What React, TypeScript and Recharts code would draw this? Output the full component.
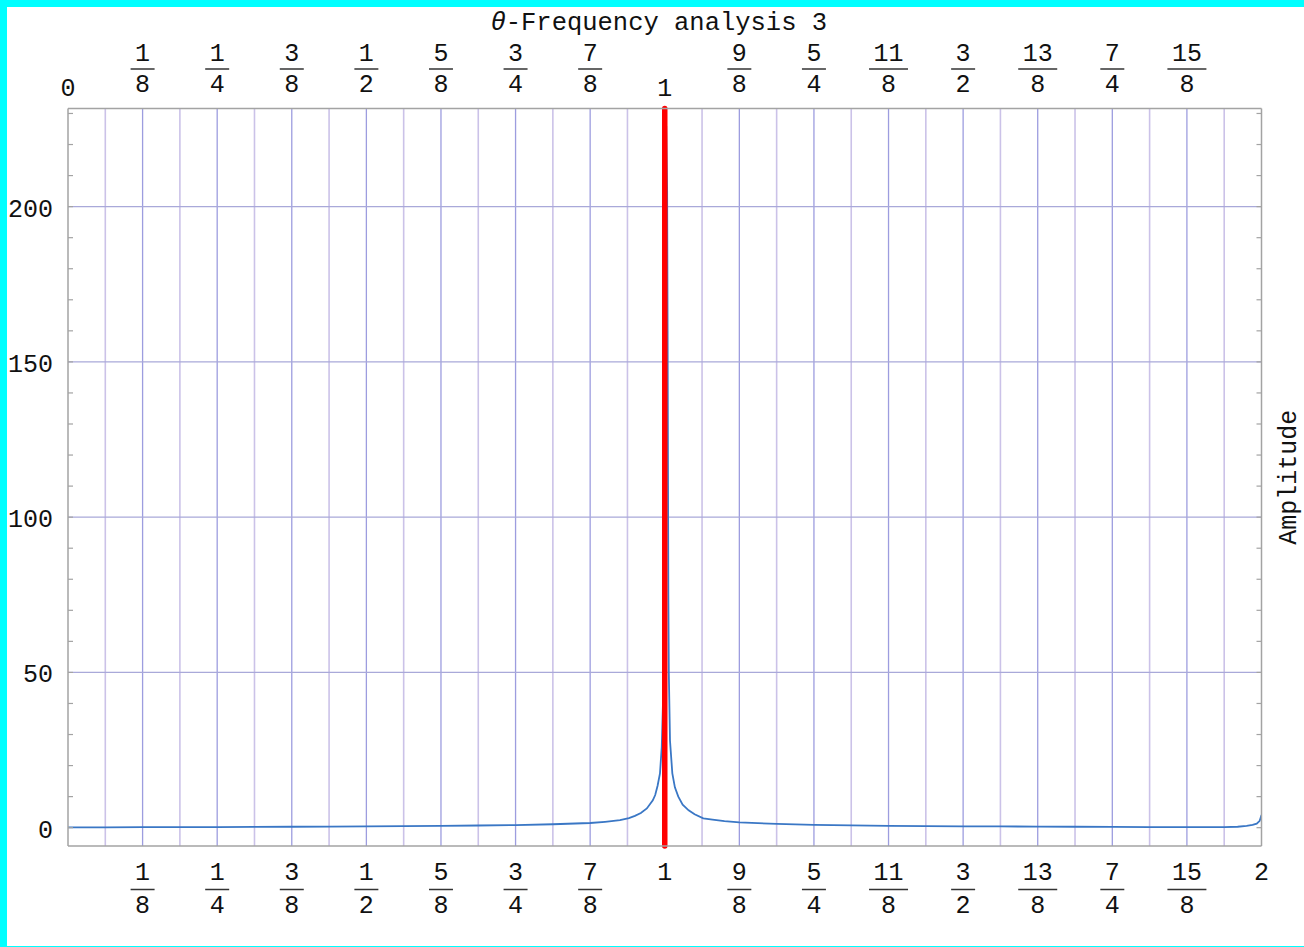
import React from 'react';
import {
  ComposedChart,
  Line,
  XAxis,
  YAxis,
  ReferenceLine
} from 'recharts';

// frequency (multiples of the base frequency) and amplitude
const freqValues = [
  0, 0.0625, 0.125, 0.1875, 0.25, 0.3125, 0.375, 0.4375, 0.5, 0.5625, 0.625, 0.6875,
  0.75, 0.8125, 0.875, 0.9, 0.925, 0.94, 0.95, 0.96, 0.97, 0.98, 0.984, 0.988,
  0.992, 0.995, 0.997, 0.9985, 0.9995, 1.0005, 1.0015, 1.0025, 1.004, 1.0048,
  1.0055, 1.006, 1.0068, 1.0088, 1.0127, 1.017, 1.0227, 1.03, 1.04, 1.05, 1.0646, 1.08,
  1.1, 1.125, 1.1875, 1.25, 1.3125, 1.375, 1.4375, 1.5, 1.5625, 1.625, 1.6875,
  1.75, 1.8125, 1.875, 1.9375, 1.96, 1.975, 1.985, 1.992, 1.997, 2
];

const amplitudeValues = [
  0.1, 0.1, 0.15, 0.2, 0.2, 0.25, 0.3, 0.35, 0.4, 0.5, 0.55, 0.7,
  0.85, 1.1, 1.5, 1.9, 2.4, 3.1, 3.8, 4.7, 6.2, 8.8, 10.5, 13.5,
  17.5, 26, 40, 60, 95, 150, 200, 226, 205, 160,
  110, 75, 50, 28, 17.5, 13, 10, 7.4, 5.6, 4.3, 3.0, 2.6,
  2.1, 1.7, 1.2, 0.9, 0.75, 0.6, 0.5, 0.45, 0.4, 0.35, 0.3,
  0.25, 0.2, 0.15, 0.15, 0.3, 0.6, 0.9, 1.3, 2.2, 4.1
];

const xTicks = [0, 0.125, 0.25, 0.375, 0.5, 0.625, 0.75, 0.875, 1, 1.125, 1.25, 1.375, 1.5, 1.625, 1.75, 1.875, 2];
const xGridValues = [
  0.0625, 0.125, 0.1875, 0.25, 0.3125, 0.375, 0.4375, 0.5, 0.5625, 0.625, 0.6875, 0.75,
  0.8125, 0.875, 0.9375, 1, 1.0625, 1.125, 1.1875, 1.25, 1.3125, 1.375, 1.4375, 1.5,
  1.5625, 1.625, 1.6875, 1.75, 1.8125, 1.875, 1.9375
];
const topTickLabels = ['0', '1/8', '1/4', '3/8', '1/2', '5/8', '3/4', '7/8', '1', '9/8', '5/4', '11/8', '3/2', '13/8', '7/4', '15/8', ''];
const bottomTickLabels = ['', '1/8', '1/4', '3/8', '1/2', '5/8', '3/4', '7/8', '1', '9/8', '5/4', '11/8', '3/2', '13/8', '7/4', '15/8', '2'];

const yTicks = [0, 10, 20, 30, 40, 50, 60, 70, 80, 90, 100, 110, 120, 130, 140, 150, 160, 170, 180, 190, 200, 210, 220, 230];
const yLabelValues = [0, 50, 100, 150, 200];
const yGridValues = [50, 100, 150, 200];

const chartData = freqValues.map((freq, i) => ({ freq, amp: amplitudeValues[i] }));

const FONT = '"Liberation Mono", "DejaVu Sans Mono", monospace';
const FONT_SIZE = 25;
const TEXT = '#111';
const FRAME = '#a3a3a3';

const Fraction = ({ x, label, numY, barY, denY, intY }: any) => {
  if (!label) return null;
  const parts = label.split('/');
  if (parts.length === 1) {
    return (
      <text x={x} y={intY} textAnchor="middle" fontFamily={FONT} fontSize={FONT_SIZE} fill={TEXT}>
        {label}
      </text>
    );
  }
  const half = (Math.max(parts[0].length, parts[1].length) * 15 + 9) / 2;
  return (
    <g>
      <text x={x} y={numY} textAnchor="middle" fontFamily={FONT} fontSize={FONT_SIZE} fill={TEXT}>
        {parts[0]}
      </text>
      <line x1={x - half} x2={x + half} y1={barY} y2={barY} stroke="#333" strokeWidth={1.5} />
      <text x={x} y={denY} textAnchor="middle" fontFamily={FONT} fontSize={FONT_SIZE} fill={TEXT}>
        {parts[1]}
      </text>
    </g>
  );
};

const TopTick = (props: any) => {
  const { x, y, payload } = props;
  const label = topTickLabels[Math.round(payload.value * 8)];
  return <Fraction x={x} label={label} numY={y - 48} barY={y - 39.5} denY={y - 16.5} intY={y - 12.5} />;
};

const BottomTick = (props: any) => {
  const { x, y, payload } = props;
  const label = bottomTickLabels[Math.round(payload.value * 8)];
  return <Fraction x={x} label={label} numY={y + 33.5} barY={y + 43.5} denY={y + 66.5} intY={y + 34} />;
};

const LeftTick = (props: any) => {
  const { x, y, payload } = props;
  return (
    <g>
      <line x1={x} x2={x + 5} y1={y} y2={y} stroke={FRAME} strokeWidth={1.2} />
      {yLabelValues.includes(payload.value) && (
        <text x={x - 15} y={y + 10} textAnchor="end" fontFamily={FONT} fontSize={FONT_SIZE} fill={TEXT}>
          {payload.value}
        </text>
      )}
    </g>
  );
};

const RightTick = (props: any) => {
  const { x, y } = props;
  return <line x1={x} x2={x - 5} y1={y} y2={y} stroke={FRAME} strokeWidth={1.2} />;
};

const renderTitle = (props: any) => {
  const vb = props.viewBox;
  return (
    <text x={vb.x + vb.width / 2 - 6} y={30} textAnchor="middle" fontFamily={FONT} fontSize={25.5} fill={TEXT}>
      <tspan fontStyle="italic">θ</tspan>-Frequency analysis 3
    </text>
  );
};

const renderAmplitude = (props: any) => {
  const vb = props.viewBox;
  const cx = vb.x + 27.5;
  const cy = vb.y + vb.height / 2;
  return (
    <text
      x={cx}
      y={cy}
      transform={`rotate(-90, ${cx}, ${cy})`}
      textAnchor="middle"
      dominantBaseline="central"
      fontFamily={FONT}
      fontSize={FONT_SIZE}
      fill={TEXT}
    >
      Amplitude
    </text>
  );
};

const App: React.FC = () => {
  return (
    <div style={{ position: 'absolute', left: 0, top: 0, width: 1304, height: 947, background: '#00ffff' }}>
      <div style={{ position: 'absolute', left: 7, top: 7, width: 1297, height: 938.5, background: '#ffffff' }} />
      <div style={{ position: 'absolute', left: 0, top: 0 }}>
        <ComposedChart width={1304} height={947} data={chartData} margin={{ top: 0, right: 0, bottom: 0, left: 0 }}>
          <XAxis
            xAxisId="bottom"
            dataKey="freq"
            type="number"
            domain={[0, 2]}
            allowDataOverflow
            ticks={xTicks}
            interval={0}
            height={101}
            tickLine={false}
            tickSize={0}
            tickMargin={0}
            tick={<BottomTick />}
            axisLine={{ stroke: FRAME, strokeWidth: 1.5 }}
          />
          <XAxis
            xAxisId="top"
            orientation="top"
            dataKey="freq"
            type="number"
            domain={[0, 2]}
            allowDataOverflow
            ticks={xTicks}
            interval={0}
            height={108.5}
            tickLine={false}
            tickSize={0}
            tickMargin={0}
            tick={<TopTick />}
            axisLine={{ stroke: FRAME, strokeWidth: 1.5 }}
            label={renderTitle}
          />
          <YAxis
            yAxisId="left"
            type="number"
            domain={[-5.9, 231.6]}
            allowDataOverflow
            ticks={yTicks}
            interval={0}
            width={68}
            tickLine={false}
            tickSize={0}
            tickMargin={0}
            tick={<LeftTick />}
            axisLine={{ stroke: FRAME, strokeWidth: 1.5 }}
          />
          <YAxis
            yAxisId="right"
            orientation="right"
            type="number"
            domain={[-5.9, 231.6]}
            allowDataOverflow
            ticks={yTicks}
            interval={0}
            width={42.5}
            tickLine={false}
            tickSize={0}
            tickMargin={0}
            tick={<RightTick />}
            axisLine={{ stroke: FRAME, strokeWidth: 1.5 }}
            label={renderAmplitude}
          />
          {xGridValues.map((v) => (
            <ReferenceLine
              key={`vx-${v}`}
              xAxisId="bottom"
              yAxisId="left"
              x={v}
              stroke={Math.round(v * 16) % 2 === 0 ? '#9d9ddf' : '#cbc2e8'}
              strokeWidth={Math.round(v * 16) % 2 === 0 ? 1.3 : 1.6}
            />
          ))}
          {yGridValues.map((v) => (
            <ReferenceLine
              key={`hy-${v}`}
              xAxisId="bottom"
              yAxisId="left"
              y={v}
              stroke="#a9a9d9"
              strokeWidth={1.3}
            />
          ))}
          <Line
            xAxisId="bottom"
            yAxisId="left"
            type="linear"
            dataKey="amp"
            stroke="#3a77c5"
            strokeWidth={1.8}
            dot={false}
            isAnimationActive={false}
          />
          <ReferenceLine
            xAxisId="bottom"
            yAxisId="left"
            x={1}
            stroke="#ff0000"
            strokeWidth={5.5}
            strokeLinecap="round"
          />
        </ComposedChart>
      </div>
    </div>
  );
};

export default App;
